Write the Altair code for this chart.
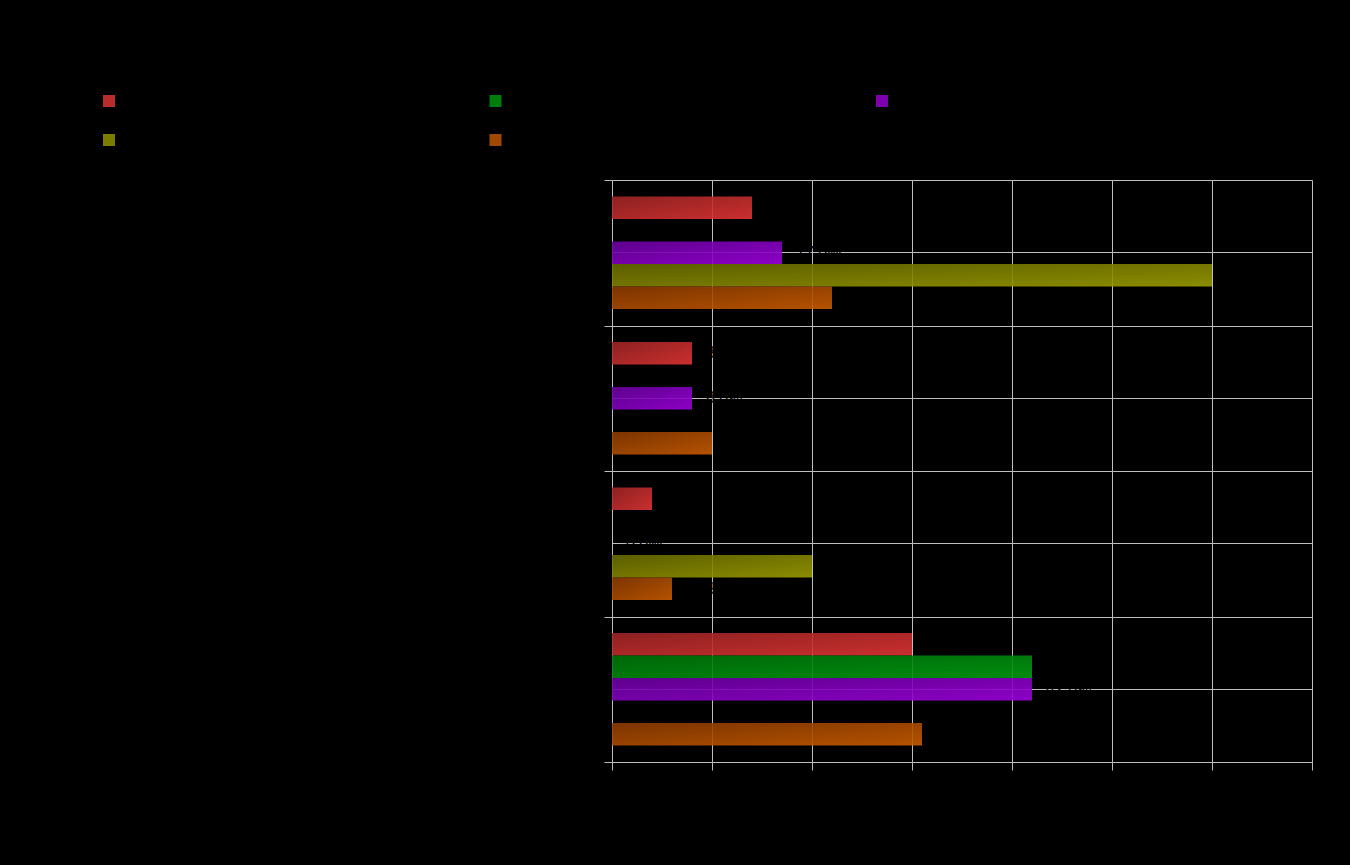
import altair as alt
import pandas as pd

categories = ["Category 1", "Category 2", "Category 3", "Category 4"]
series = ["Series 1", "Series 2", "Series 3", "Series 4", "Series 5"]
s1 = [14, 8, 4, 30]
s2 = [None, None, None, 42]
s3 = [17, 8, 0, 42]
s4 = [60, None, 20, None]
s5 = [22, 10, 6, 31]
x_ticks = [0, 10, 20, 30, 40, 50, 60, 70]

dark = ["#9c2424", "#007207", "#68009c", "#666800", "#8a3a00"]
light = ["#e23434", "#009c12", "#9c00dc", "#9a9c00", "#c85b00"]
mid = ["#b82c2c", "#007e0c", "#7c00b0", "#7a7c00", "#a04800"]

rows = []
for s, vals in zip(series, [s1, s2, s3, s4, s5]):
    for c, v in zip(categories, vals):
        rows.append({"category": c, "series": s, "value": v,
                     "label": None if v is None else f"{v:.1f}%"})
df = pd.DataFrame(rows)

grid_col = "#bdbdbd"

y_enc = alt.Y("category:N", sort=categories,
              scale=alt.Scale(domain=categories, paddingInner=0, paddingOuter=0),
              axis=alt.Axis(title=None, tickBand="extent", grid=True, gridColor=grid_col,
                            domainColor=grid_col, tickColor=grid_col, tickSize=8,
                            labelColor="black", labelFontSize=13, labelPadding=6))
yoff_enc = alt.YOffset("series:N", sort=series,
                       scale=alt.Scale(domain=series, paddingInner=0, paddingOuter=0.733))
x_enc = alt.X("value:Q", scale=alt.Scale(domain=[0, 70], nice=False),
              axis=alt.Axis(title=None, values=x_ticks, grid=True, gridColor=grid_col,
                            domainColor=grid_col, tickColor=grid_col, tickSize=8,
                            labelColor="black", labelFontSize=13))

base = alt.Chart(df)

bar_layers = []
for i, s in enumerate(series):
    grad = alt.Gradient(gradient="linear",
                        stops=[alt.GradientStop(color=dark[i], offset=0),
                               alt.GradientStop(color=light[i], offset=1)],
                        x1=0, y1=0, x2=1, y2=1)
    bar_layers.append(
        base.transform_filter(alt.datum.series == s)
        .transform_filter("datum.value != null")
        .mark_bar(fill=grad, opacity=0.9)
        .encode(x=x_enc, y=y_enc, yOffset=yoff_enc)
    )

labels = (base.transform_filter("datum.value != null")
          .mark_text(align="left", baseline="middle", dx=14, color="black", fontSize=16)
          .encode(x=x_enc, y=y_enc, yOffset=yoff_enc, text="label:N"))

legend_layer = (base.mark_square(opacity=0)
                .encode(color=alt.Color("series:N", sort=series,
                                        scale=alt.Scale(domain=series, range=mid),
                                        legend=alt.Legend(orient="none", legendX=-509, legendY=-85,
                                                          direction="horizontal", columns=3,
                                                          symbolType="square", symbolSize=144,
                                                          symbolOpacity=1, symbolStrokeWidth=0,
                                                          labelColor="black", labelFontSize=12,
                                                          columnPadding=325.5, rowPadding=27,
                                                          title=None, padding=0, gridAlign="all"))))

inner = alt.layer(*bar_layers, labels, legend_layer)

grid_layer = (alt.Chart(pd.DataFrame({"category": categories}))
              .mark_point(opacity=0)
              .encode(y=alt.Y("category:N", sort=categories,
                              scale=alt.Scale(domain=categories, paddingInner=0, paddingOuter=0),
                              axis=alt.Axis(orient="right", title=None, grid=True, gridColor=grid_col,
                                            bandPosition=0.5, ticks=False, labels=False, domain=False))))

chart = (alt.layer(inner, grid_layer)
         .resolve_axis(y="independent")
         .properties(width=700, height=582,
                     autosize=alt.AutoSizeParams(type="none"),
                     padding={"left": 612, "top": 180, "right": 38, "bottom": 103},
                     background="black")
         .configure_view(stroke=None))

chart.save("out.html", embed_options={"renderer": "svg", "actions": False})
